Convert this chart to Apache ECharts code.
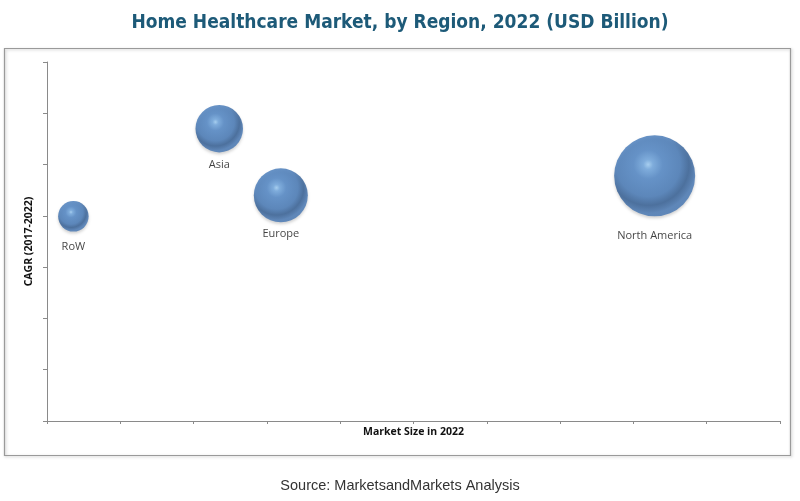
<!DOCTYPE html>
<html>
<head>
<meta charset="utf-8">
<script src="https://cdn.jsdelivr.net/npm/echarts@6/dist/echarts.min.js"></script>
<style>
html,body{margin:0;padding:0;background:#fff;}
#main{width:800px;height:501px;}
</style>
</head>
<body>
<div id="main"></div>
<script>
// Data (axes have no labels; arbitrary 0-10 / 0-7 units)
var regions = ['RoW', 'Asia', 'Europe', 'North America'];
var marketSize = [0.36, 2.35, 3.19, 8.29];   // x: Market Size in 2022
var cagr = [3.99, 5.70, 4.40, 4.78];         // y: CAGR (2017-2022)
var bubbleValue = [3.05, 4.75, 5.4, 8.1];    // bubble size value

var labelGap = [10, 7, 6, 14];

var chart = echarts.init(document.getElementById('main'));

var points = regions.map(function (r, i) {
  return {
    name: r,
    value: [marketSize[i], cagr[i], bubbleValue[i]],
    label: { distance: labelGap[i] }
  };
});

var option = {
  backgroundColor: '#fff',
  animation: false,
  title: {
    text: 'Home Healthcare Market, by Region, 2022 (USD Billion)',
    left: 'center',
    top: 9,
    textStyle: {
      fontFamily: '"Liberation Sans Narrow", "DejaVu Sans Condensed", "Liberation Sans", sans-serif',
      fontWeight: 'bold',
      fontSize: 19,
      color: '#1d5a78'
    }
  },
  graphic: [
    {
      type: 'rect',
      shape: { x: 4.5, y: 48.5, width: 786, height: 407 },
      style: { fill: 'none', stroke: '#9a9a9a', lineWidth: 1.2,
               shadowColor: 'rgba(0,0,0,0.25)', shadowBlur: 3, shadowOffsetX: 1, shadowOffsetY: 1 },
      z: -1
    },
    {
      type: 'text',
      left: 'center',
      top: 478,
      style: {
        text: 'Source: MarketsandMarkets Analysis',
        fontFamily: '"Liberation Sans", Arial, sans-serif',
        fontSize: 14.5,
        fill: '#333'
      }
    }
  ],
  grid: { left: 47, right: 20, top: 62, bottom: 80 },
  xAxis: {
    type: 'value',
    min: 0, max: 10, interval: 1,
    name: 'Market Size in 2022',
    nameLocation: 'middle',
    nameGap: 6,
    nameTextStyle: {
      fontFamily: '"Open Sans", "Noto Sans", sans-serif',
      fontWeight: 'bold', fontSize: 10.5, color: '#111',
      verticalAlign: 'top'
    },
    axisLine: { lineStyle: { color: '#8a8a8a', width: 1 } },
    axisTick: { show: true, length: 3, lineStyle: { color: '#8a8a8a' } },
    axisLabel: { show: false },
    splitLine: { show: false }
  },
  yAxis: {
    type: 'value',
    min: 0, max: 7, interval: 1,
    name: 'CAGR (2017-2022)',
    nameLocation: 'middle',
    nameGap: 12,
    nameTextStyle: {
      fontFamily: '"Open Sans", "Noto Sans", sans-serif',
      fontWeight: 'bold', fontSize: 10.5, color: '#111'
    },
    axisLine: { show: true, lineStyle: { color: '#8a8a8a', width: 1 } },
    axisTick: { show: true, length: 4, lineStyle: { color: '#8a8a8a' } },
    axisLabel: { show: false },
    splitLine: { show: false }
  },
  series: [{
    type: 'scatter',
    data: points,
    symbolSize: function (v) { return v[2] * 10; },
    itemStyle: {
      color: {
        type: 'radial', x: 0.42, y: 0.36, r: 0.6,
        colorStops: [
          { offset: 0, color: '#9ccdf6' },
          { offset: 0.1, color: '#6aa3de' },
          { offset: 0.3, color: '#4a82c4' },
          { offset: 0.66, color: '#3f74b4' },
          { offset: 0.84, color: '#2b5890' },
          { offset: 0.95, color: '#3a6aa6' },
          { offset: 1, color: '#4274b2' }
        ]
      },
      shadowColor: 'rgba(0,0,0,0.22)',
      shadowBlur: 3,
      shadowOffsetY: 2
    },
    label: {
      show: true,
      position: 'bottom',
      formatter: '{b}',
      fontFamily: '"Open Sans", "Noto Sans", sans-serif',
      fontSize: 11,
      color: '#111'
    }
  }]
};
chart.setOption(option);
</script>
</body>
</html>
